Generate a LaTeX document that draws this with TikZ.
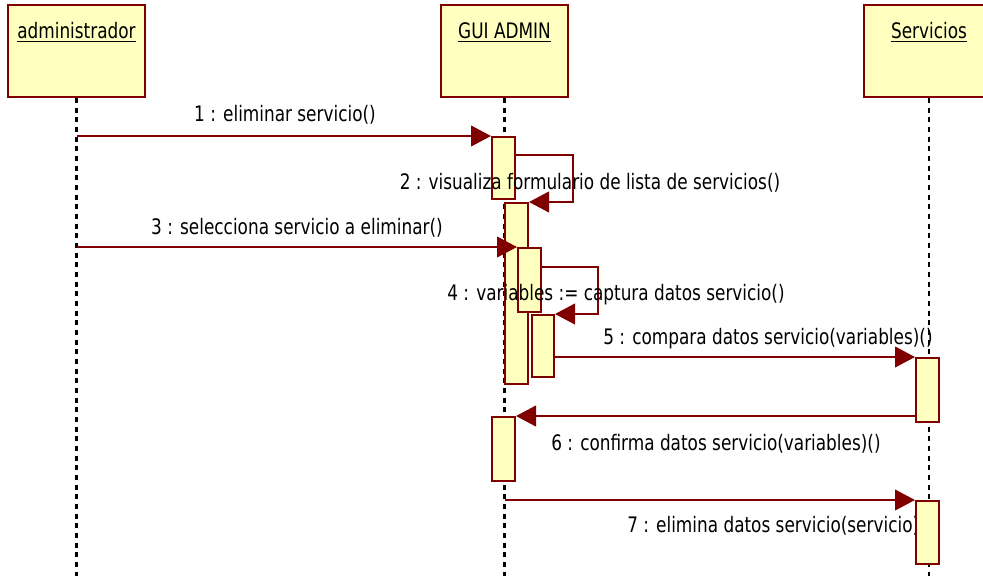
\documentclass[tikz,border=0pt]{standalone}
\usepackage{fontspec}
\setmainfont[FakeStretch=0.88]{DejaVu Sans Condensed}
\usetikzlibrary{arrows.meta,positioning,fit}
\definecolor{umlred}{RGB}{128,0,0}
\definecolor{umlyellow}{RGB}{255,255,192}

\begin{document}
\begin{tikzpicture}[x=0.75pt, y=-0.75pt,
    objbox/.style={draw=umlred, fill=umlyellow, line width=1.5pt, inner sep=0pt},
    actbox/.style={objbox},
    lifeline/.style={black, line width=1.6pt, dash pattern=on 3.75pt off 3.5pt},
    msg/.style={umlred, line width=1.5pt, -{Triangle[length=15pt, width=15.5pt]}},
    msglabel/.style={font=\fontsize{16}{18}\selectfont, inner sep=0pt},
    objname/.style={font=\fontsize{16}{18}\selectfont, anchor=base, inner sep=0pt}
]
    \useasboundingbox (0,0) rectangle (983,576);

    % Objetos
    \node[objbox, fit={(8,5) (145,97)}] (admin) {};
    \node[objbox, fit={(441,5) (568,97)}] (gui) {};
    \node[objbox, fit={(864,5) (994,97)}] (serv) {};
    \node[objname] (adminname) at ([yshift=-26pt]admin.north) {\underline{administrador}};
    \node[objname] (guiname) at ([yshift=-26pt]gui.north) {\underline{GUI ADMIN}};
    \node[objname] (servname) at ([yshift=-26pt]serv.north) {\underline{Servicios}};

    % Lineas de vida
    \draw[lifeline] (admin.south) -- (admin.south |- 0,576);
    \draw[lifeline] (gui.south) -- (gui.south |- 0,576);
    \draw[lifeline] (serv.south) -- (serv.south |- 0,576);

    % Activaciones
    \node[actbox, fit={(492,137) (515,199)}] (a1) {};
    \node[actbox, fit={(505,203) (528,384)}] (a2) {};
    \node[actbox, fit={(518,248) (541,312)}] (a3) {};
    \node[actbox, fit={(532,315) (554,377)}] (a4) {};
    \node[actbox, fit={(916,358) (939,422)}] (s1) {};
    \node[actbox, fit={(492,417) (515,481)}] (g5) {};

    % Mensajes
    \coordinate (self2) at (573,155);
    \coordinate (self4) at (598,267);
    \draw[msg] (admin.south |- a1.north) -- (a1.north west);
    \draw[msg] (a1.east |- self2) -- (self2) |- (a2.north east);
    \draw[msg] (admin.south |- a3.north) -- (a3.north west);
    \draw[msg] (a3.east |- self4) -- (self4) |- (a4.north east);
    \draw[msg] (a4.east |- s1.north) -- (s1.north west);
    \draw[msg] (s1.west |- g5.north) -- (g5.north east);

    % Etiquetas
    \node[msglabel] (l1) at (285,115) {1 : eliminar servicio()};
    \node[msglabel] (l2) at (590,183) {2 : visualiza formulario de lista de servicios()};
    \node[msglabel] (l3) at (297,228) {3 : selecciona servicio a eliminar()};
    \node[msglabel] (l4) at (616,295) {4 : variables := captura datos servicio()};
    \node[msglabel] (l5) at (768,339) {5 : compara datos servicio(variables)()};
    \node[msglabel] (l6) at (716,444) {6 : confirma datos servicio(variables)()};
    \node[msglabel, anchor=west] (l7) at (627,526) {7 : elimina datos servicio(servicio)};

    \node[actbox, fit={(916,501) (939,564)}] (s2) {};
    \draw[msg] (gui.south |- s2.north) -- (s2.north west);
\end{tikzpicture}
\end{document}
